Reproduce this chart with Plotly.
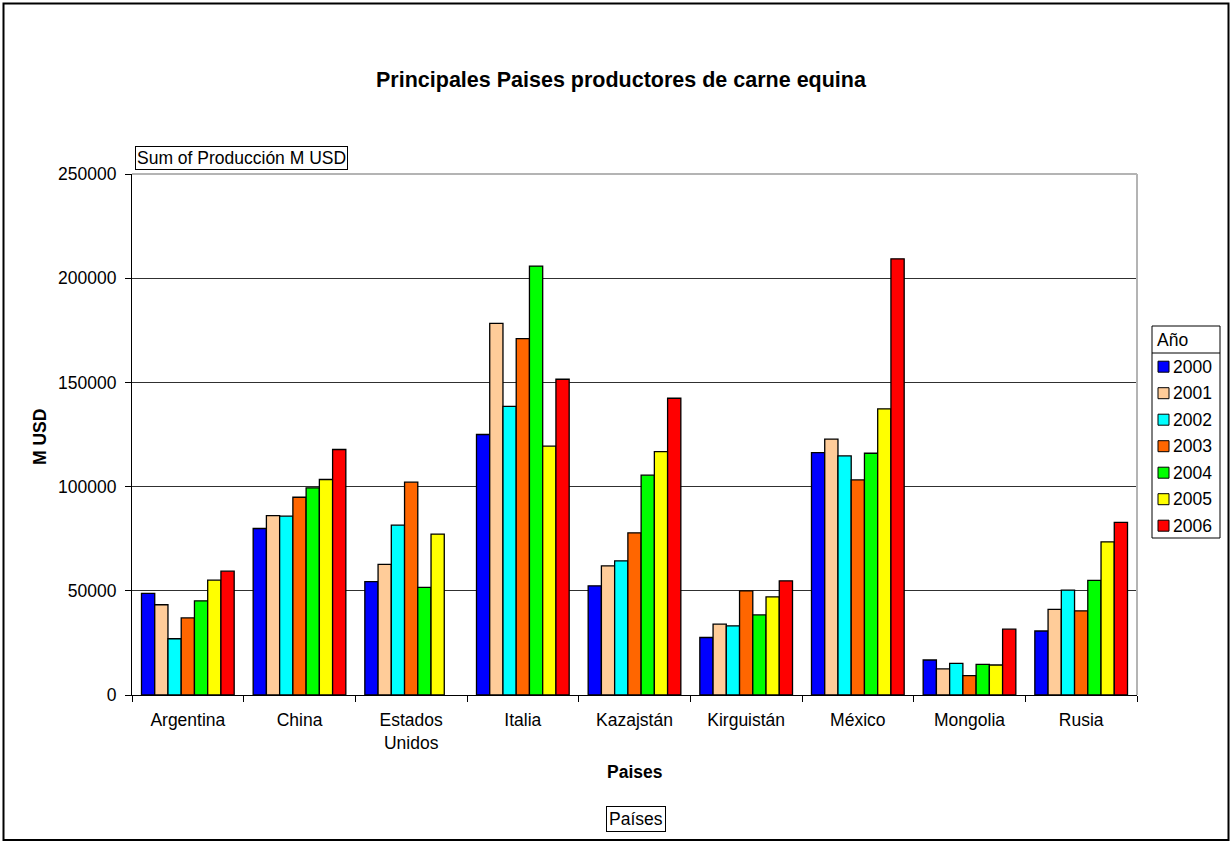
import plotly.graph_objects as go

countries = ["Argentina", "China", "Estados<br>Unidos", "Italia", "Kazajstán",
             "Kirguistán", "México", "Mongolia", "Rusia"]
years = ["2000", "2001", "2002", "2003", "2004", "2005", "2006"]
v2000 = [48800, 79900, 54400, 125000, 52400, 27600, 116300, 16800, 30700]
v2001 = [43300, 86100, 62700, 178300, 62000, 34000, 122800, 12500, 41100]
v2002 = [27000, 85800, 81500, 138500, 64400, 33200, 114700, 15200, 50300]
v2003 = [37000, 94900, 102100, 171000, 77800, 50000, 103200, 9300, 40400]
v2004 = [45200, 99400, 51600, 205800, 105500, 38400, 116000, 14700, 55000]
v2005 = [55100, 103400, 77200, 119400, 116800, 47100, 137300, 14400, 73500]
v2006 = [59400, 117800, None, 151500, 142400, 54800, 209300, 31600, 82800]
series = [v2000, v2001, v2002, v2003, v2004, v2005, v2006]
colors = ["#0000FF", "#FFCC99", "#00FFFF", "#FF6600", "#00FF00", "#FFFF00", "#FF0000"]
y_ticks = [0, 50000, 100000, 150000, 200000, 250000]

FONT = "Liberation Sans, Arial, sans-serif"
W, H = 1232, 844
PL, PR, PT, PB = 132, 1137, 174, 695


def px(x):
    return (x - PL) / (PR - PL)


def py(y):
    return (PB - y) / (PB - PT)


fig = go.Figure()
for yr, vals, col in zip(years, series, colors):
    fig.add_trace(go.Bar(
        x=countries, y=vals, name=yr, showlegend=False,
        marker=dict(color=col, line=dict(color="black", width=1.3)),
    ))

shapes = []
annotations = []

# outer chart frame
shapes.append(dict(type="rect", xref="paper", yref="paper",
                   x0=px(3.5), x1=px(1228.5), y0=py(840), y1=py(3.5),
                   line=dict(color="black", width=2), layer="above"))
# plot area border (top and right, grey)
shapes.append(dict(type="line", xref="paper", yref="paper",
                   x0=0, x1=1, y0=1, y1=1,
                   line=dict(color="#b4b4b4", width=2), layer="above"))
shapes.append(dict(type="line", xref="paper", yref="paper",
                   x0=1, x1=1, y0=0, y1=1,
                   line=dict(color="#b4b4b4", width=2), layer="above"))

# legend (manual)
LX0, LX1, LY0, LY1 = 1152, 1220, 326, 538
shapes.append(dict(type="rect", xref="paper", yref="paper",
                   x0=px(LX0), x1=px(LX1), y0=py(LY1), y1=py(LY0),
                   line=dict(color="black", width=1), fillcolor="white", layer="above"))
shapes.append(dict(type="line", xref="paper", yref="paper",
                   x0=px(LX0), x1=px(LX1), y0=py(353), y1=py(353),
                   line=dict(color="black", width=1), layer="above"))
annotations.append(dict(text="Año", xref="paper", yref="paper", x=px(1155), y=py(340),
                        xanchor="left", yanchor="middle", showarrow=False,
                        font=dict(family=FONT, size=17.5, color="black")))
for i, (yr, col) in enumerate(zip(years, colors)):
    cy = 366.7 + i * 26.5
    shapes.append(dict(type="rect", xref="paper", yref="paper",
                       x0=px(1158), x1=px(1169), y0=py(cy + 5.5), y1=py(cy - 5.5),
                       line=dict(color="black", width=1), fillcolor=col, layer="above"))
    annotations.append(dict(text=yr, xref="paper", yref="paper", x=px(1171), y=py(cy),
                            xanchor="left", yanchor="middle", showarrow=False,
                            font=dict(family=FONT, size=17.5, color="black")))

# title
annotations.append(dict(text="<b>Principales Paises productores de carne equina</b>",
                        xref="paper", yref="paper", x=px(621), y=py(80),
                        xanchor="center", yanchor="middle", showarrow=False,
                        font=dict(family=FONT, size=21.5, color="black")))
# field button labels
annotations.append(dict(text="Sum of Producción M USD", xref="paper", yref="paper",
                        x=px(241.5), y=py(158.5), xanchor="center", yanchor="middle",
                        showarrow=False, bordercolor="black", borderwidth=1, borderpad=1,
                        bgcolor="white", font=dict(family=FONT, size=17.5, color="black")))
annotations.append(dict(text="Países", xref="paper", yref="paper",
                        x=px(636), y=py(819), xanchor="center", yanchor="middle",
                        showarrow=False, bordercolor="black", borderwidth=1, borderpad=2,
                        bgcolor="white", font=dict(family=FONT, size=17.5, color="black")))
# axis titles
annotations.append(dict(text="<b>Paises</b>", xref="paper", yref="paper",
                        x=0.5, y=py(772), xanchor="center", yanchor="middle",
                        showarrow=False, font=dict(family=FONT, size=17.5, color="black")))
annotations.append(dict(text="<b>M USD</b>", xref="paper", yref="paper",
                        x=px(40), y=py(437), xanchor="center", yanchor="middle",
                        textangle=-90, showarrow=False,
                        font=dict(family=FONT, size=17.5, color="black")))

fig.update_layout(
    width=W, height=H,
    margin=dict(l=PL, r=W - PR, t=PT, b=H - PB, pad=0),
    paper_bgcolor="white", plot_bgcolor="white",
    barmode="group", bargap=0.17, bargroupgap=0,
    font=dict(family=FONT, size=17.5, color="black"),
    shapes=shapes, annotations=annotations,
    showlegend=False,
)
fig.update_xaxes(
    type="category", showline=True, linecolor="black", linewidth=1,
    ticks="outside", tickson="boundaries", ticklen=6, tickcolor="black",
    tickfont=dict(family=FONT, size=17.5, color="black"), ticklabelstandoff=9,
    showgrid=False, zeroline=False,
)
fig.update_yaxes(
    range=[0, 250000], tickvals=y_ticks, tickformat="d",
    showline=True, linecolor="black", linewidth=1,
    ticks="outside", ticklen=6, tickcolor="black",
    tickfont=dict(family=FONT, size=17.5, color="black"), ticklabelstandoff=5,
    showgrid=True, gridcolor="#303030", gridwidth=1, zeroline=False,
)

fig.write_html("out.html", config={"displayModeBar": False},
               post_script="document.body.style.margin='0';")
